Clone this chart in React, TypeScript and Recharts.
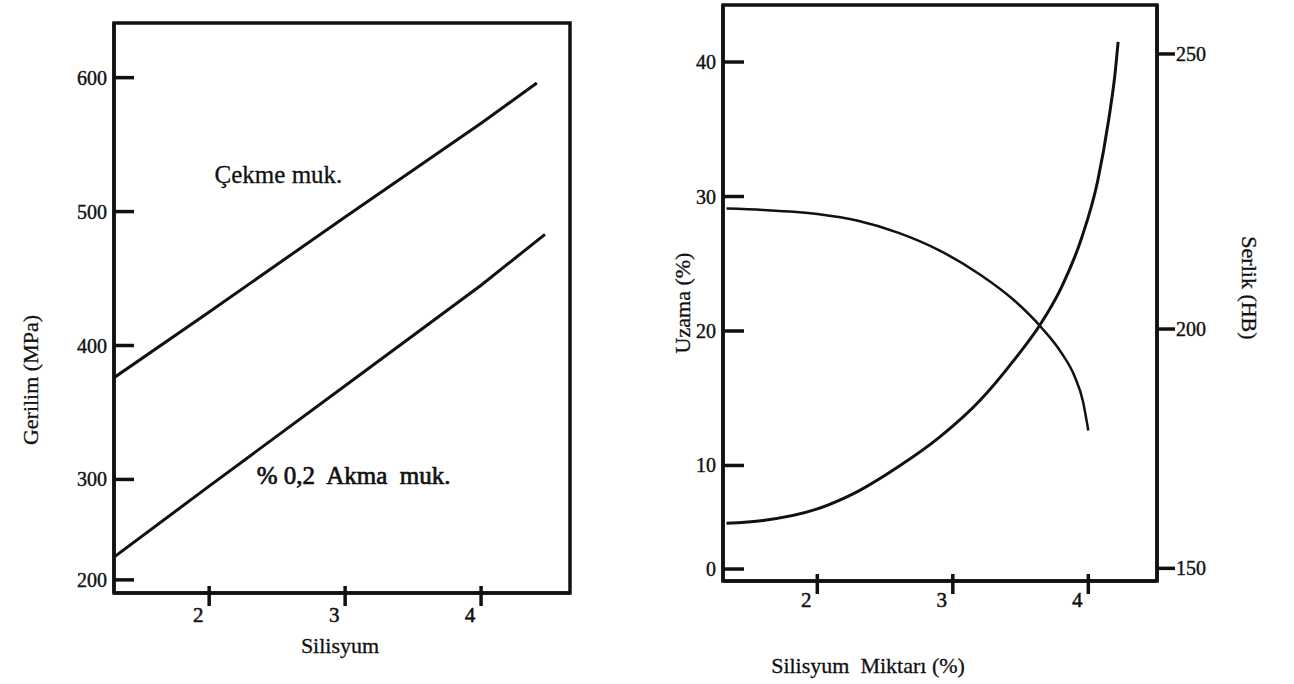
import { LineChart, Line, XAxis, YAxis, ReferenceDot, ReferenceArea } from "recharts";

const FONT = '"Liberation Serif", "DejaVu Serif", "Times New Roman", serif';
const INK = "#111";

// Sol grafik: Gerilim - Silisyum
const cekmeSi = [1.3, 2, 3, 4, 4.41];
const cekmeMPa = [376, 425, 496, 566, 596];
const akmaSi = [1.3, 2, 3, 4, 4.47];
const akmaMPa = [242, 295, 370, 445, 483];
const siTicks = [2, 3, 4];
// the original axis squeezes the 200 mark, so it sits where ~225 would be
const gerilimTicks = [225, 300, 400, 500, 600];
const gerilimLabels = ["200", "300", "400", "500", "600"];

// Sag grafik: Uzama / Sertlik - Silisyum Miktari
const uzamaSi = [1.33, 1.6, 2.0, 2.3, 2.6, 2.9, 3.2, 3.45, 3.65, 3.8, 3.9, 3.96, 4.0];
const uzamaPct = [29.1, 29.0, 28.7, 28.2, 27.3, 26.0, 24.2, 22.3, 20.3, 18.4, 16.6, 14.8, 12.6];
const sertlikSi = [1.33, 1.6, 2.0, 2.3, 2.6, 2.9, 3.2, 3.45, 3.65, 3.8, 3.95, 4.07, 4.15, 4.2, 4.22];
const sertlikHB = [164.7, 165.2, 167.3, 170.5, 175.0, 180.3, 187.0, 194.3, 201.0, 207.5, 216.5, 227, 238, 247, 252.2];
const uzamaTicks = [2.3, 10, 20, 30, 40];
const uzamaLabels = ["0", "10", "20", "30", "40"];
const sertlikTicks = [156.5, 200, 250];
const sertlikLabels = ["150", "200", "250"];

const leftX: [number, number] = [1.3, 4.654];
const leftY: [number, number] = [215.2, 640.8];
const rightX: [number, number] = [1.304, 4.507];
const uzamaY: [number, number] = [1.41, 44.24];
const sertlikY: [number, number] = [154.2, 258.9];

const toRows = (xs: number[], ys: number[]) => xs.map((si, i) => ({ si, v: ys[i] }));

const cekmeData = toRows(cekmeSi, cekmeMPa);
const akmaData = toRows(akmaSi, akmaMPa);
const uzamaData = toRows(uzamaSi, uzamaPct);
const sertlikData = toRows(sertlikSi, sertlikHB);

const frameLine = { stroke: INK, strokeWidth: 3.5 };
const textStyle = { fontFamily: FONT, whiteSpace: "pre" as const };

function XTick({ x, y, payload, below }: any) {
  return (
    <g>
      <line x1={x} x2={x} y1={y - 7} y2={y + 13} stroke={INK} strokeWidth={3.5} />
      <text x={x - 11} y={y + below} textAnchor="middle" fontSize={21} fill={INK} stroke={INK} strokeWidth={0.5} style={textStyle}>
        {payload.value}
      </text>
    </g>
  );
}

function YTick({ x, y, payload, tickVals, tickText, side, len }: any) {
  const label = tickText[tickVals.indexOf(payload.value)];
  const left = side === "left";
  return (
    <g>
      <line x1={x} x2={x + len} y1={y} y2={y} stroke={INK} strokeWidth={3.5} />
      <text
        x={left ? x - 7 : x + len + 1}
        y={y}
        dy="0.35em"
        textAnchor={left ? "end" : "start"}
        fontSize={20}
        fill={INK}
        stroke={INK}
        strokeWidth={0.4}
        style={textStyle}
      >
        {label}
      </text>
    </g>
  );
}

function AxisTitle({ viewBox, text, offX, offY, rot = 0 }: any) {
  const cx = viewBox.x + offX;
  const cy = viewBox.y + offY;
  return (
    <text
      x={cx}
      y={cy}
      dy="0.35em"
      textAnchor="middle"
      transform={rot ? `rotate(${rot} ${cx} ${cy})` : undefined}
      fontSize={22}
      fill={INK}
      stroke={INK}
      strokeWidth={0.3}
      style={textStyle}
    >
      {text}
    </text>
  );
}

function Note({ viewBox, text, heavy }: any) {
  return (
    <text x={viewBox.x} y={viewBox.y} fontSize={25} fill={INK} stroke={INK} strokeWidth={heavy ? 0.7 : 0.3} style={textStyle}>
      {text}
    </text>
  );
}

function GerilimChart() {
  return (
    <LineChart width={600} height={684} margin={{ top: 23, right: 30, bottom: 0, left: 0 }}>
      <XAxis
        dataKey="si"
        type="number"
        domain={leftX}
        allowDataOverflow
        ticks={siTicks}
        interval={0}
        tickSize={0}
        tickMargin={0}
        tickLine={false}
        axisLine={frameLine}
        height={91}
        tick={(p: any) => <XTick {...p} below={29} />}
        label={{ content: <AxisTitle text="Silisyum" offX={226} offY={52} /> }}
      />
      <YAxis
        type="number"
        domain={leftY}
        allowDataOverflow
        ticks={gerilimTicks}
        interval={0}
        tickSize={0}
        tickMargin={0}
        tickLine={false}
        axisLine={frameLine}
        width={114}
        tick={(p: any) => <YTick {...p} tickVals={gerilimTicks} tickText={gerilimLabels} side="left" len={20} />}
        label={{ content: <AxisTitle text="Gerilim (MPa)" offX={30} offY={357} rot={-90} /> }}
      />
      <ReferenceArea x1={leftX[0]} x2={leftX[1]} y1={leftY[0]} y2={leftY[1]} fill="none" stroke={INK} strokeWidth={3.5} fillOpacity={0} />
      <Line data={cekmeData} dataKey="v" type="linear" stroke={INK} strokeWidth={3} dot={false} isAnimationActive={false} />
      <Line data={akmaData} dataKey="v" type="linear" stroke={INK} strokeWidth={3} dot={false} isAnimationActive={false} />
      <ReferenceDot x={2.04} y={521.3} r={0} fill="none" stroke="none" label={{ content: <Note text="Çekme muk." /> }} />
      <ReferenceDot x={2.35} y={296.6} r={0} fill="none" stroke="none" label={{ content: <Note text={"% 0,2  Akma  muk."} heavy /> }} />
    </LineChart>
  );
}

function UzamaChart() {
  return (
    <LineChart width={674} height={684} margin={{ top: 5, right: 0, bottom: 0, left: 0 }}>
      <XAxis
        dataKey="si"
        type="number"
        domain={rightX}
        allowDataOverflow
        ticks={siTicks}
        interval={0}
        tickSize={0}
        tickMargin={0}
        tickLine={false}
        axisLine={frameLine}
        height={103}
        tick={(p: any) => <XTick {...p} below={26} />}
        label={{ content: <AxisTitle text={"Silisyum  Miktarı (%)"} offX={145} offY={84} /> }}
      />
      <YAxis
        yAxisId="uzama"
        type="number"
        domain={uzamaY}
        allowDataOverflow
        ticks={uzamaTicks}
        interval={0}
        tickSize={0}
        tickMargin={0}
        tickLine={false}
        axisLine={frameLine}
        width={103}
        tick={(p: any) => <YTick {...p} tickVals={uzamaTicks} tickText={uzamaLabels} side="left" len={21} />}
        label={{ content: <AxisTitle text="Uzama (%)" offX={62} offY={298} rot={-90} /> }}
      />
      <YAxis
        yAxisId="sertlik"
        orientation="right"
        type="number"
        domain={sertlikY}
        allowDataOverflow
        ticks={sertlikTicks}
        interval={0}
        tickSize={0}
        tickMargin={0}
        tickLine={false}
        axisLine={frameLine}
        width={137}
        tick={(p: any) => <YTick {...p} tickVals={sertlikTicks} tickText={sertlikLabels} side="right" len={18} />}
        label={{ content: <AxisTitle text="Serlik (HB)" offX={93} offY={283} rot={90} /> }}
      />
      <ReferenceArea
        yAxisId="uzama"
        x1={rightX[0]}
        x2={rightX[1]}
        y1={uzamaY[0]}
        y2={uzamaY[1]}
        fill="none"
        stroke={INK}
        strokeWidth={3.5}
        fillOpacity={0}
      />
      <Line yAxisId="uzama" data={uzamaData} dataKey="v" type="monotone" stroke={INK} strokeWidth={2.5} dot={false} isAnimationActive={false} />
      <Line yAxisId="sertlik" data={sertlikData} dataKey="v" type="monotone" stroke={INK} strokeWidth={3} dot={false} isAnimationActive={false} />
    </LineChart>
  );
}

export default function App() {
  return (
    <div style={{ position: "absolute", left: 0, top: 0, width: 1294, height: 684, background: "#fff" }}>
      <div style={{ position: "absolute", left: 0, top: 0 }}>
        <GerilimChart />
      </div>
      <div style={{ position: "absolute", left: 620, top: 0 }}>
        <UzamaChart />
      </div>
    </div>
  );
}
